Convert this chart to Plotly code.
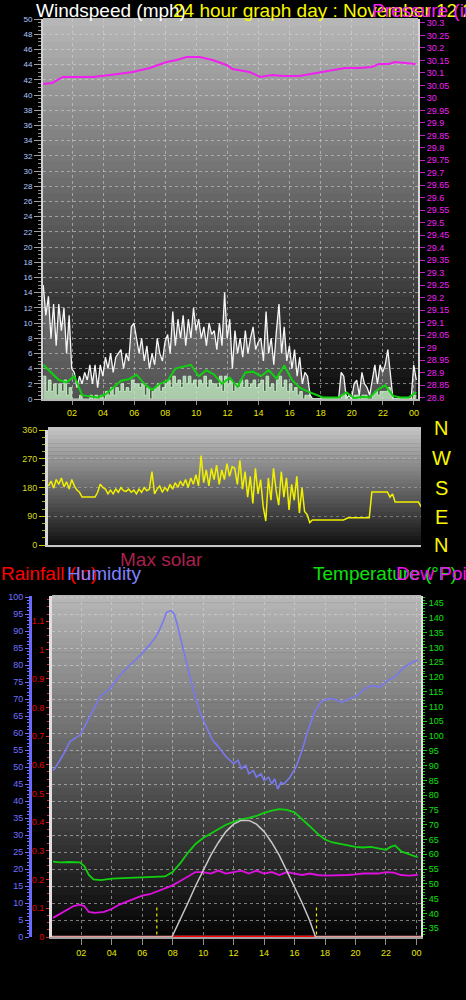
import plotly.graph_objects as go

W, H = 466, 1000
FONT = "Liberation Sans, Arial, sans-serif"

# ---------------- data ----------------
# 10-minute sample times (hours) for wind / direction series
T10 = [round(0.15 + i / 6, 4) for i in range(145)]

wind_gust = [15, 11, 13.5, 8, 12.5, 7,
             12.5, 9, 12, 6, 11, 4,
             3.5, 1.5, 3, 2, 3.5, 2.5,
             4.5, 2, 4.5, 1.5, 4.5, 3,
             5.5, 4, 6, 3.5, 5.5, 6,
             6.5, 4, 6, 5, 9.5, 10,
             8, 6, 8, 5, 7, 4,
             6, 4.5, 8, 6, 5, 7.5,
             8.5, 6, 11.5, 7, 10.5, 8,
             11, 7, 10.5, 8, 12, 9,
             10.5, 8, 9.5, 7, 10, 8.5,
             9, 6.5, 10, 7, 14, 8,
             10.5, 4, 9, 6, 8, 5.5,
             9, 6, 8, 9.5, 6.5, 7.5,
             8, 5, 11.5, 6, 8, 4.5,
             9, 12.5, 6, 9.5, 5, 7,
             4, 6.5, 3, 5.5, 2, 3.5,
             3, 0.5, 0, 0, 0, 0,
             0, 0, 0, 0, 0, 0,
             0, 3.5, 3, 0, 0.5, 0,
             2, 2.5, 0.5, 3.5, 2, 1.5,
             0.5, 2.5, 4.5, 2, 4.5, 3.5,
             4.5, 6.5, 3.5, 0, 0, 0,
             0, 0, 0, 0, 0, 4.5, 2.5]

wind_speed = [3, 1, 2.5, 1, 2, 0.5, 2, 1, 2.5, 0.5, 1.5, 0,
              0, 0, 0.5, 0, 0, 0, 0.5, 0, 0.5, 0, 0.5, 0,
              1, 0.5, 1.5, 0.5, 1.5, 1, 2, 1, 1.5, 1, 2.5, 2,
              2, 1.5, 2, 0.5, 1.5, 0, 1, 1.5, 2, 1, 1.5, 2,
              2.5, 1.5, 3, 2, 2.5, 1.5, 3, 2, 3, 2, 2.5, 1.5,
              2.5, 2, 3, 1.5, 2.5, 2, 2, 1.5, 3, 1, 3, 2,
              2.5, 1, 2, 1.5, 2.5, 1.5, 2.5, 1.5, 2, 2.5, 1.5, 2,
              2.5, 1, 3, 1.5, 2, 1, 2.5, 3, 1.5, 2.5, 1, 2,
              1, 1.5, 0.5, 1, 0, 0.5, 0.5, 0, 0, 0, 0, 0,
              0, 0, 0, 0, 0, 0, 0, 0.5, 0.5, 0, 0, 0,
              0.5, 0.5, 0, 0.5, 0.5, 0, 0, 0.5, 1, 0.5, 1, 1,
              1, 1.5, 0.5, 0, 0, 0, 0, 0, 0, 0, 0, 0.5, 0.5]

T30 = [round(0.15 + i / 2, 3) for i in range(49)]
wind_avg = [4.5, 3.5, 2.5, 2.2, 3.0, 0.5, 0.3, 0.2, 0.6, 1.5, 2.4, 2.6,
            3.2, 2.0, 1.2, 2.0, 2.4, 4.0, 4.2, 4.5, 3.0, 3.8, 3.2, 2.0,
            2.8, 1.6, 3.5, 3.6, 3.0, 3.8, 2.7, 4.4, 2.5, 1.5, 1.0, 0.6,
            0.2, 0.2, 0.2, 0.9, 0.1, 0.3, 0.2, 1.2, 1.8, 0.4, 0.2, 0.2, 0.9]

press_t = [0.14, 0.72, 1.42, 1.87, 3.35, 4.44, 5.91, 7.0, 8.09, 8.73, 9.37, 10.2,
           11.04, 11.94, 12.32, 13.41, 14.12, 14.88, 15.53, 16.62, 17.64, 18.73,
           19.56, 20.46, 21.29, 21.74, 22.38, 22.77, 23.41, 24.1]
press_v = [30.056, 30.06, 30.084, 30.084, 30.084, 30.092, 30.104, 30.12, 30.144,
           30.152, 30.164, 30.164, 30.152, 30.132, 30.116, 30.104, 30.084, 30.092,
           30.088, 30.088, 30.10, 30.112, 30.12, 30.12, 30.124, 30.136, 30.136,
           30.144, 30.14, 30.136]

wind_dir = [185, 200, 178, 205, 190, 210,
            182, 198, 175, 205, 185, 172,
            165, 150, 150, 150, 150, 150,
            150, 165, 190, 180, 175, 160,
            172, 160, 175, 165, 180, 170,
            168, 175, 165, 172, 160, 175,
            165, 180, 170, 175, 230, 160,
            175, 185, 165, 180, 170, 190,
            175, 195, 180, 200, 185, 205,
            180, 210, 190, 220, 185, 280,
            195, 235, 185, 240, 205, 250,
            190, 235, 205, 255, 215, 245,
            240, 190, 265, 175, 230, 150,
            215, 130, 240, 160, 205, 120,
            75, 210, 140, 240, 170, 125,
            230, 150, 210, 110, 190, 140,
            215, 100, 180, 105, 95, 70,
            78, 78, 78, 78, 78, 78,
            78, 78, 78, 78, 78, 78,
            78, 82, 85, 85, 85, 85,
            85, 85, 85, 85, 85, 166,
            166, 166, 166, 166, 166, 166,
            150, 160, 135, 135, 135, 135,
            135, 135, 135, 135, 135, 135, 120]

hum_t = [0.15, 0.28, 0.6, 0.93, 1.26, 1.92, 2.58, 2.9, 3.23, 3.56, 3.89, 4.2, 4.54,
         5.2, 5.9, 6.5, 7.0, 7.4, 7.6, 7.9, 8.1, 8.3, 8.6, 9.0, 9.4, 9.8, 10.2,
         10.6, 11.0, 11.5, 12.0, 12.3, 12.5, 12.8, 13.0, 13.3, 13.5, 13.8, 14.0,
         14.3, 14.5, 14.7, 14.9, 15.1, 15.3, 15.7, 16.1, 16.5, 16.9, 17.3, 17.7,
         18.1, 18.6, 19.1, 19.6, 20.1, 20.6, 21.1, 21.6, 22.1, 22.6, 23.1, 23.6, 24.08]
hum_v = [49, 49.7, 52, 54.5, 57.5, 59.4, 65, 68, 70.6, 72, 73, 75, 77,
         80, 83, 86, 89, 93, 95.5, 96, 95, 92, 86, 79, 72, 66, 62,
         58, 56, 53, 51, 52, 49.5, 50.5, 48, 49, 47, 48, 46,
         47, 45, 46.5, 43.5, 45.5, 45, 47, 50, 55, 61, 66, 69,
         70, 70, 69, 70, 71, 73, 74, 73.5, 75.5, 76.5, 79, 80.5, 81.5]

temp_t = [0.15, 0.6, 1.2, 1.9, 2.2, 2.5, 2.8, 3.3, 4.0, 4.8, 5.6, 6.4, 7.0, 7.5, 8.0,
          8.5, 9.0, 9.5, 10.0, 10.5, 11.0, 11.5, 12.0, 12.5, 13.0, 13.5, 14.0, 14.5,
          15.0, 15.5, 16.0, 16.5, 17.0, 17.5, 18.0, 18.5, 19.0, 19.5, 20.0, 20.5,
          21.0, 21.5, 22.0, 22.3, 22.6, 23.0, 23.5, 24.08]
temp_v = [57.5, 57.3, 57.4, 57.3, 56, 53, 51.5, 51.3, 51.8, 52, 52, 52.3, 52.3, 52.5,
          54, 57, 60.5, 63.5, 65.5, 67, 68.5, 70, 71, 71.8, 72.3, 73, 74, 74.8,
          75.3, 75, 74.2, 72, 69.5, 67, 65, 64, 63.5, 63, 62.5, 62.3,
          62.5, 62, 61.5, 62.5, 63, 61, 60, 59]

dew_t = [0.15, 0.5, 1.0, 1.5, 1.9, 2.2, 2.5, 2.9, 3.5, 4.0, 4.5, 5.0, 5.5, 6.0, 6.5,
         7.0, 7.5, 8.0, 8.5, 9.0, 9.5, 10.0, 10.5, 11.0, 11.5, 12.0, 12.5, 13.0,
         13.5, 14.0, 14.5, 15.0, 15.5, 16.0, 16.5, 17.0, 17.5, 18.0, 18.5, 19.0,
         19.5, 20.0, 20.5, 21.0, 21.5, 22.0, 22.5, 23.0, 23.5, 24.08]
dew_v = [38.5, 39.5, 41, 42.5, 43, 42.5, 40.5, 40.2, 40.5, 41.5, 43, 44, 45, 46, 46.5,
         47.5, 48.5, 49.5, 51, 52.5, 54, 54, 53.5, 54.5, 53.5, 54, 54.5, 53.5,
         54.5, 53.5, 54, 53, 54, 53.5, 53, 53.5, 53, 52.8, 52.8, 53,
         53, 53.2, 53.5, 53.5, 53.5, 54, 53.8, 53, 52.8, 53]

solar_t = [7.95, 8.5, 9.0, 9.5, 10.0, 10.5, 11.0, 11.5, 12.0, 12.5, 13.0, 13.5,
           14.0, 14.5, 15.0, 15.5, 16.0, 16.5, 17.0, 17.38]
solar_max = [0, 50, 100, 150, 195, 240, 278, 310, 332, 343, 343, 332,
             310, 278, 240, 195, 150, 100, 48, 0]
solar_actual_t = [7.95, 17.38]
solar_actual = [0, 0]

rain_t = [0.08, 24.3]
rain_v = [0, 0]

SUNRISE, SUNSET = 6.96, 17.44

x_ticks = [2, 4, 6, 8, 10, 12, 14, 16, 18, 20, 22, 24]
x_labels = ["02", "04", "06", "08", "10", "12", "14", "16", "18", "20", "22", "00"]

# ---------------- helpers ----------------
def px(x):
    return x / W


def py(y):
    return 1 - y / H


shapes = []


def gradient(x0, x1, y0, y1, ctop, cbot, n=48):
    step = (y1 - y0) / n
    for k in range(n):
        f = k / (n - 1)
        c = [int(round(ctop[j] + (cbot[j] - ctop[j]) * f)) for j in range(3)]
        shapes.append(dict(type="rect", xref="paper", yref="paper", layer="below",
                           x0=px(x0), x1=px(x1), y0=py(y0 + k * step),
                           y1=py(y0 + (k + 1) * step + 0.6),
                           fillcolor="rgb(%d,%d,%d)" % tuple(c), line_width=0))


gradient(43, 418, 18, 401, (182, 182, 182), (12, 12, 12))
gradient(48, 421, 427, 548, (195, 195, 195), (14, 14, 14), 30)
gradient(52, 421, 595, 938, (182, 182, 182), (4, 4, 4))

fig = go.Figure()

# ---- top panel: wind + pressure ----
fig.add_trace(go.Scatter(x=T10, y=wind_gust, mode="lines", xaxis="x", yaxis="y",
                         line=dict(color="rgba(255,255,255,0.95)", width=1.3),
                         fill="tozeroy", fillcolor="rgba(215,215,215,0.35)",
                         name="Gust"))
fig.add_trace(go.Scatter(x=T10, y=wind_speed, mode="lines", xaxis="x", yaxis="y",
                         line=dict(color="rgba(200,245,200,0.9)", width=1, shape="hv"),
                         fill="tozeroy", fillcolor="rgba(200,245,200,0.75)",
                         name="Wind"))
fig.add_trace(go.Scatter(x=T30, y=wind_avg, mode="lines", xaxis="x", yaxis="y",
                         line=dict(color="#10d010", width=2), name="Average"))
fig.add_trace(go.Scatter(x=press_t, y=press_v, mode="lines", xaxis="x", yaxis="y2",
                         line=dict(color="#f020f0", width=2), name="Pressure"))

# ---- middle panel: wind direction ----
fig.add_trace(go.Scatter(x=T10, y=wind_dir, mode="lines", xaxis="x2", yaxis="y3",
                         line=dict(color="#f0f000", width=1.5), name="Direction"))

# ---- bottom panel ----
fig.add_trace(go.Scatter(x=rain_t, y=rain_v, mode="lines", xaxis="x3", yaxis="y5",
                         line=dict(color="#e89a9a", width=2.5), name="Rainfall"))
fig.add_trace(go.Scatter(x=solar_actual_t, y=solar_actual, mode="lines", xaxis="x3",
                         yaxis="y7", line=dict(color="#ff0000", width=2.5), name="Solar"))
fig.add_trace(go.Scatter(x=solar_t, y=solar_max, mode="lines", xaxis="x3", yaxis="y7",
                         line=dict(color="#c8c8c8", width=1.5), name="Max solar"))
fig.add_trace(go.Scatter(x=hum_t, y=hum_v, mode="lines", xaxis="x3", yaxis="y4",
                         line=dict(color="#7878f0", width=1.6), name="Humidity"))
fig.add_trace(go.Scatter(x=temp_t, y=temp_v, mode="lines", xaxis="x3", yaxis="y6",
                         line=dict(color="#10d010", width=1.8), name="Temperature"))
fig.add_trace(go.Scatter(x=dew_t, y=dew_v, mode="lines", xaxis="x3", yaxis="y6",
                         line=dict(color="#e010e0", width=1.8), name="Dew Point"))
for s in (SUNRISE, SUNSET):
    fig.add_trace(go.Scatter(x=[s, s], y=[-1, 9.2], mode="lines", xaxis="x3", yaxis="y4",
                             line=dict(color="#e8e800", width=1.2, dash="dot"),
                             showlegend=False, cliponaxis=False))

grid = dict(showgrid=True, gridcolor="rgba(215,215,215,0.55)", griddash="dot", gridwidth=1)

xcommon = dict(tickmode="array", tickvals=x_ticks, ticktext=x_labels,
               tickfont=dict(family=FONT, size=9, color="#e8e800"),
               ticks="outside", tickcolor="#909090", zeroline=False)

layout = dict(
    width=W, height=H, margin=dict(l=0, r=0, t=0, b=0, autoexpand=False),
    paper_bgcolor="black", plot_bgcolor="rgba(0,0,0,0)",
    showlegend=False, shapes=shapes, font=dict(family=FONT),
    xaxis=dict(domain=[px(43), px(418)], range=[0.1345, 24.258], anchor="y",
               showline=True, linecolor="#b8b8b8", linewidth=2, automargin=False,
               ticklen=4, **xcommon, **grid),
    yaxis=dict(domain=[py(399), py(19)], range=[0, 50], dtick=2, anchor="x",
               tickfont=dict(family=FONT, size=8, color="#b4c8ff"),
               ticks="outside", ticklen=7, tickcolor="#a0a0a0", automargin=False,
               minor=dict(dtick=0.5, ticks="outside", ticklen=3, tickcolor="#909090"),
               showline=True, linecolor="#d0d0d0", linewidth=2, zeroline=False, **grid),
    yaxis2=dict(overlaying="y", side="right", anchor="x", range=[28.794, 30.316],
                dtick=0.05, tickfont=dict(family=FONT, size=9, color="#f020f0"),
                ticks="outside", ticklen=5, tickcolor="#c020c0", automargin=False,
                showline=True, linecolor="#d8d8d8", linewidth=2,
                showgrid=False, zeroline=False),
    xaxis2=dict(domain=[px(48), px(421)], range=[0.12, 24.15], anchor="y3",
                showticklabels=False, showgrid=False, zeroline=False, automargin=False,
                showline=True, linecolor="#c8c8c8", linewidth=2),
    yaxis3=dict(domain=[py(545), py(430)], range=[0, 360], anchor="x2",
                tickvals=[0, 90, 180, 270, 360], automargin=False,
                tickfont=dict(family=FONT, size=9, color="#d8d820"),
                ticks="outside", ticklen=6, tickcolor="#c8c800",
                minor=dict(dtick=22.5, ticks="outside", ticklen=3, tickcolor="#b0b000"),
                showline=True, linecolor="#d8d8d8", linewidth=3, zeroline=False,
                showgrid=True, gridcolor="rgba(200,200,200,0.45)", griddash="dot"),
    xaxis3=dict(domain=[px(52), px(421)], range=[0.081, 24.30], anchor="y5",
                showline=True, linecolor="#a0a0a0", linewidth=2, automargin=False,
                ticklen=6, **xcommon, **grid),
    yaxis4=dict(overlaying="y5", side="left", anchor="free", position=px(30),
                range=[0, 100.3], dtick=5, automargin=False,
                tickfont=dict(family=FONT, size=9, color="#7070ff"),
                ticks="outside", ticklen=4, tickcolor="#7070ff",
                minor=dict(dtick=1, ticks="outside", ticklen=2, tickcolor="#7070ff"),
                showline=True, linecolor="#6a6aff", linewidth=2.5, zeroline=False,
                **grid),
    yaxis5=dict(domain=[py(937), py(596)], range=[0, 1.188], dtick=0.1, anchor="x3",
                side="left", tickfont=dict(family=FONT, size=9, color="#e00000"),
                ticks="outside", ticklen=3, tickcolor="#e03030", automargin=False,
                minor=dict(dtick=0.025, ticks="outside", ticklen=2, tickcolor="#e03030"),
                showline=True, linecolor="#e0e0e0", linewidth=3,
                showgrid=False, zeroline=False),
    yaxis6=dict(overlaying="y5", side="right", anchor="x3", range=[32.03, 147.37],
                dtick=5, tickfont=dict(family=FONT, size=9, color="#10e010"),
                ticks="outside", ticklen=4, tickcolor="#10d010", automargin=False,
                minor=dict(dtick=1, ticks="outside", ticklen=2, tickcolor="#10d010"),
                showline=True, linecolor="#e0e0e0", linewidth=2,
                showgrid=False, zeroline=False),
    yaxis7=dict(overlaying="y5", range=[0, 1003], visible=False),
)
fig.update_layout(**layout)


def label(x, y, text, color, size=19):
    fig.add_annotation(x=px(x), y=py(y), xref="paper", yref="paper", text=text,
                       showarrow=False, xanchor="left", yanchor="middle",
                       font=dict(family=FONT, size=size, color=color))


label(34, 10, "Windspeed (mph)", "white")
label(171, 10, "24 hour graph day : November 12 2013", "#f8f800")
label(370, 10, "Pressure (in)", "#f020f0")
for y, t in zip([428, 458, 488, 517, 545], ["N", "W", "S", "E", "N"]):
    fig.add_annotation(x=px(441), y=py(y), xref="paper", yref="paper", text=t,
                       showarrow=False, xanchor="center", yanchor="middle",
                       font=dict(family=FONT, size=20, color="#f8f800"))
label(118, 559, "Max solar", "#a8204c")
label(-1, 573, "Rainfall (in)", "#ff0000")
label(65, 573, "Humidity", "#8080ff")
label(311, 573, "Temperature (°F)", "#10e010")
label(394, 573, "Dew Point", "#f010f0")

fig.write_html("out.html", config={"displayModeBar": False, "staticPlot": True},
               post_script="document.body.style.margin='0px';"
                           "document.body.style.background='black';"
                           "document.body.style.overflow='hidden';")
